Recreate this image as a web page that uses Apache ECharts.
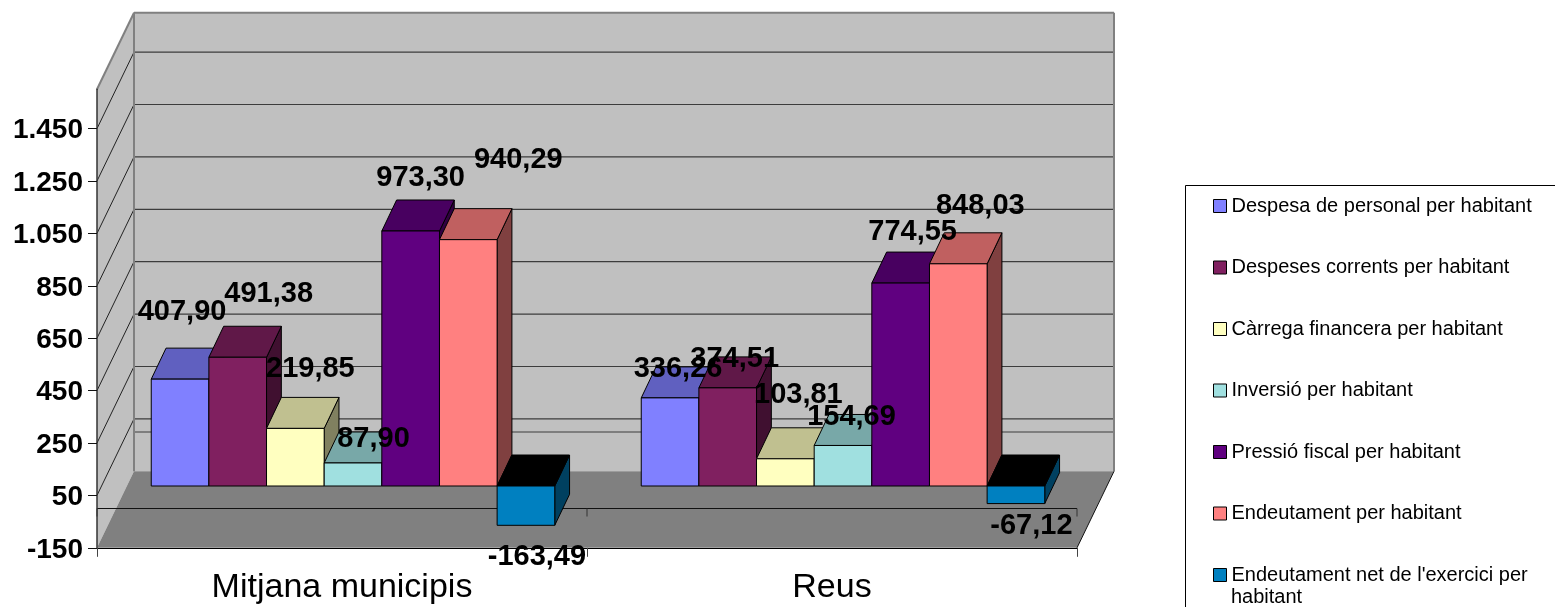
<!DOCTYPE html>
<html>
<head>
<meta charset="utf-8">
<style>html,body{margin:0;padding:0;background:#fff}#c{width:1555px;height:607px}</style>
<script src="https://cdn.jsdelivr.net/npm/echarts@6/dist/echarts.min.js"></script>
</head>
<body>
<div id="c"></div>
<script>
const categories = ['Mitjana municipis', 'Reus'];
const seriesNames = [
  'Despesa de personal per habitant',
  'Despeses corrents per habitant',
  'Càrrega financera per habitant',
  'Inversió per habitant',
  'Pressió fiscal per habitant',
  'Endeutament per habitant',
  "Endeutament net de l'exercici per habitant"
];
const despesaPersonal = [407.90, 336.26];
const despesesCorrents = [491.38, 374.51];
const carregaFinancera = [219.85, 103.81];
const inversio = [87.90, 154.69];
const pressioFiscal = [973.30, 774.55];
const endeutament = [940.29, 848.03];
const endeutamentNet = [-163.49, -67.12];
const yTicks = [-150, 50, 250, 450, 650, 850, 1050, 1250, 1450];
const yMin = -150, yMax = 1600;

const values = [despesaPersonal, despesesCorrents, carregaFinancera, inversio, pressioFiscal, endeutament, endeutamentNet];

// styles: front, top, side
const faces = [
  ['#8080FF', '#6060C0', '#404080'],
  ['#802060', '#601848', '#401030'],
  ['#FFFFC0', '#C0C090', '#808060'],
  ['#A0E0E0', '#78A8A8', '#507070'],
  ['#600080', '#480060', '#300040'],
  ['#FF8080', '#C06060', '#804040'],
  ['#0080C0', '#000000', '#004060']
];
// layout constants of the pseudo-3D projection
const wallShift = [37, -76.5];
const planeShift = [11, -22.5];
const barDepth = [14.8, -31];
// label displacement relative to the bar's end, per series and category
const labelShift = [
  [[2, -67], [8, -29]],
  [[31, -63], [7, -29]],
  [[15, -59], [13, -64]],
  [[20.5, -24], [8.5, -28]],
  [[10, -53], [12, -51]],
  [[50, -80], [22, -58]],
  [[11, 32], [15.5, 22]]
];

function poly(pts, fill, stroke, lw) {
  return { type: 'polygon', shape: { points: pts }, style: { fill: fill, stroke: stroke || null, lineWidth: lw || 0 } };
}
function seg(a, b, stroke, lw) {
  return { type: 'line', shape: { x1: a[0], y1: a[1], x2: b[0], y2: b[1] }, style: { stroke: stroke, lineWidth: lw, fill: null } };
}

function renderWalls(params, api) {
  const cs = params.coordSys;
  const x0 = cs.x, x1 = cs.x + cs.width;
  const yAt = v => api.coord([0, v])[1];
  const dx = wallShift[0], dy = wallShift[1];
  const yB = yAt(yMin), yT = yAt(yMax), yZ = yAt(0);
  const ch = [];
  ch.push(poly([[x0 + dx, yT + dy], [x1 + dx, yT + dy], [x1 + dx, yB + dy], [x0 + dx, yB + dy]], '#C0C0C0'));
  ch.push(poly([[x0, yT], [x0 + dx, yT + dy], [x0 + dx, yB + dy], [x0, yB]], '#C0C0C0'));
  yTicks.slice(1).forEach(v => {
    const y = yAt(v);
    ch.push(seg([x0 + dx, y + dy], [x1 + dx, y + dy], '#3c3c3c', 1.2));
    ch.push(seg([x0, y], [x0 + dx, y + dy], '#222', 1));
  });
  ch.push(seg([x0 + dx, yZ + dy], [x1 + dx, yZ + dy], '#3c3c3c', 1.2));
  ch.push(seg([x0 + dx, yT + dy], [x1 + dx, yT + dy], '#808080', 2));
  ch.push(seg([x0 + dx, yT + dy], [x0 + dx, yB + dy], '#808080', 2));
  ch.push(seg([x1 + dx, yT + dy], [x1 + dx, yB + dy], '#808080', 2));
  ch.push(seg([x0, yT], [x0 + dx, yT + dy], '#808080', 2));
  ch.push(poly([[x0, yB], [x0 + dx, yB + dy], [x1 + dx, yB + dy], [x1, yB]], '#808080'));
  ch.push(seg([x1, yB], [x1 + dx, yB + dy], '#111', 1));
  ch.push(seg([x0, yZ], [x1, yZ], '#111', 1.2));
  [0, 1, 2].forEach(i => {
    const x = x0 + i * cs.width / 2;
    ch.push(seg([x, yZ], [x, yZ + 8], '#333', 1));
  });
  return { type: 'group', children: ch };
}

function barGeometry(api, si, cat, val) {
  const band = api.size([1, 0])[0];
  const w = band / 8.5;
  const c = api.coord([cat, 0]);
  const left = c[0] + planeShift[0] - 3.5 * w + si * w;
  const yBase = c[1] + planeShift[1];
  const clamped = Math.max(val, yMin);
  const yEnd = api.coord([cat, clamped])[1] + planeShift[1];
  return { left: left, w: w, yBase: yBase, yEnd: yEnd };
}

function renderBar(si) {
  return function (params, api) {
    const cat = api.value(0), val = api.value(1);
    const g = barGeometry(api, si, cat, val);
    const top = Math.min(g.yBase, g.yEnd), bot = Math.max(g.yBase, g.yEnd);
    const L = g.left, R = g.left + g.w, dx = barDepth[0], dy = barDepth[1];
    const f = faces[si], s = '#000', lw = 1;
    return {
      type: 'group',
      children: [
        poly([[R, top], [R + dx, top + dy], [R + dx, bot + dy], [R, bot]], f[2], s, lw),
        poly([[L, top], [L + dx, top + dy], [R + dx, top + dy], [R, top]], f[1], s, lw),
        poly([[L, top], [R, top], [R, bot], [L, bot]], f[0], s, lw)
      ]
    };
  };
}

function renderLabel(params, api) {
  const si = api.value(2), cat = api.value(0), val = api.value(1);
  const g = barGeometry(api, si, cat, val);
  const sh = labelShift[si][cat];
  return {
    type: 'text',
    x: g.left + g.w / 2 + sh[0],
    y: g.yEnd + sh[1],
    style: {
      text: val.toFixed(2).replace('.', ','),
      fill: '#000',
      font: 'bold 29px "Liberation Sans", Arial, sans-serif',
      textAlign: 'center',
      textVerticalAlign: 'middle'
    }
  };
}

const labelData = [];
values.forEach((arr, si) => arr.forEach((v, cat) => labelData.push([cat, v, si])));

const series = [
  { type: 'custom', name: '_walls', silent: true, z: 1, renderItem: renderWalls, data: [[0, 0]], encode: { x: 0, y: 1 } }
];
values.forEach((arr, si) => {
  series.push({
    type: 'custom',
    name: seriesNames[si],
    z: 2,
    itemStyle: { color: faces[si][0] },
    renderItem: renderBar(si),
    data: arr.map((v, i) => [i, v]),
    encode: { x: 0, y: 1 }
  });
});
series.push({ type: 'custom', name: '_labels', silent: true, z: 10, renderItem: renderLabel, data: labelData, encode: { x: 0, y: 1 } });

const chart = echarts.init(document.getElementById('c'), null, { renderer: 'canvas' });
chart.setOption({
  animation: false,
  backgroundColor: '#fff',
  textStyle: { fontFamily: '"Liberation Sans", Arial, sans-serif' },
  grid: { left: 97, top: 89.3, width: 980, height: 458.5, containLabel: false },
  xAxis: {
    type: 'category',
    data: categories,
    z: 3,
    axisLine: { onZero: false, lineStyle: { color: '#000', width: 1 } },
    axisTick: { show: true, length: 9, inside: false, lineStyle: { color: '#444', width: 1 } },
    axisLabel: { margin: 23, fontSize: 34, color: '#000', fontFamily: '"Liberation Sans", Arial, sans-serif' },
    splitLine: { show: false }
  },
  yAxis: {
    type: 'value',
    min: yMin,
    max: yMax,
    z: 3,
    splitLine: { show: false },
    axisLine: { show: true, lineStyle: { color: '#333', width: 1.5 } },
    axisTick: { show: true, length: 9, customValues: yTicks, lineStyle: { color: '#111', width: 1 } },
    axisLabel: {
      customValues: yTicks,
      margin: 14,
      fontSize: 28,
      fontWeight: 'bold',
      color: '#000',
      fontFamily: '"Liberation Sans", Arial, sans-serif',
      verticalAlign: 'top',
      lineHeight: 4,
      formatter: v => String(v).replace(/(\d)(\d{3})$/, '$1.$2')
    }
  },
  legend: {
    orient: 'vertical',
    left: 1213,
    top: 196,
    padding: 0,
    icon: 'rect',
    itemWidth: 13,
    itemHeight: 13,
    itemGap: 41.5,
    selectedMode: false,
    data: seriesNames,
    itemStyle: { borderColor: '#000', borderWidth: 1 },
    textStyle: { fontSize: 20, color: '#000', fontFamily: '"Liberation Sans", Arial, sans-serif' },
    formatter: n => n === seriesNames[6] ? n.replace(/ habitant$/, '') : n
  },
  graphic: [
    { type: 'rect', z: 0, shape: { x: 1185.5, y: 185.5, width: 500, height: 500 }, style: { fill: '#fff', stroke: '#000', lineWidth: 1 } },
    { type: 'text', z: 5, x: 1231, y: 597, style: { text: 'habitant', fill: '#000', font: '20px "Liberation Sans", Arial, sans-serif', textVerticalAlign: 'middle' } }
  ],
  series: series
});
</script>
</body>
</html>
